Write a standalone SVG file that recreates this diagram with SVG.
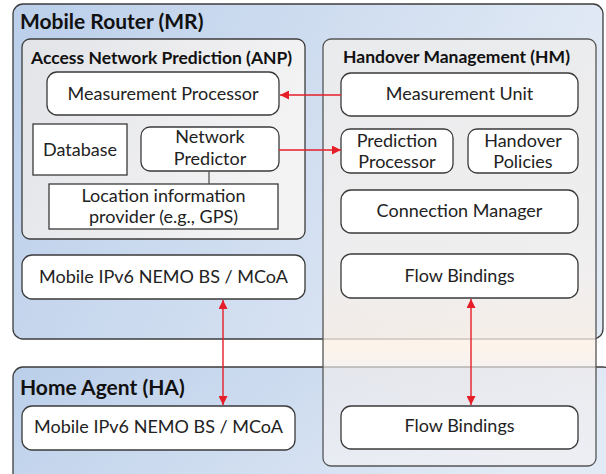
<svg xmlns="http://www.w3.org/2000/svg" width="606" height="474" viewBox="0 0 606 474">
<defs>
<linearGradient id="blue" x1="0" y1="0" x2="1" y2="0.25">
<stop offset="0" stop-color="#bbcfea"/>
<stop offset="1" stop-color="#e2eaf5"/>
</linearGradient>
<linearGradient id="grey" x1="0" y1="0" x2="1" y2="0.3">
<stop offset="0" stop-color="#e3e4e8"/>
<stop offset="1" stop-color="#f3f3f4"/>
</linearGradient>
<linearGradient id="hm" x1="0" y1="0" x2="0" y2="1">
<stop offset="0" stop-color="#ececec" stop-opacity="0.9"/>
<stop offset="0.55" stop-color="#f4f0ee" stop-opacity="0.8"/>
<stop offset="0.72" stop-color="#fcefe3" stop-opacity="0.75"/>
<stop offset="0.78" stop-color="#f0ecec" stop-opacity="0.65"/>
<stop offset="1" stop-color="#f2f1f4" stop-opacity="0.65"/>
</linearGradient>
<marker id="ah" viewBox="0 0 10 10" refX="10" refY="5" markerWidth="9" markerHeight="9" markerUnits="userSpaceOnUse" orient="auto-start-reverse">
<path d="M0,0 L10,5 L0,10 z" fill="#e61e28"/>
</marker>
</defs>
<style>
.cont{stroke:#3c3c3c;stroke-width:1.3}
.box{fill:#ffffff;stroke:#3a3a3a;stroke-width:1.3}
.t{font-family:Lato,"Liberation Sans",sans-serif;font-size:18px;fill:#222222;text-anchor:middle}
.title{font-family:Lato,"Liberation Sans",sans-serif;font-weight:bold;fill:#111111}
.arr{stroke:#e61e28;stroke-width:1.4;fill:none}
</style>

<g id="mr">
<rect class="cont" x="13" y="4" width="590" height="335" rx="10" fill="url(#blue)"/>
<text class="title" x="20" y="29" font-size="21">Mobile Router (MR)</text>
</g>
<g id="ha">
<rect class="cont" x="13" y="367" width="600" height="120" rx="10" fill="url(#blue)"/>
<text class="title" x="20" y="395" font-size="21">Home Agent (HA)</text>
</g>
<g id="anp">
<rect class="cont" x="22" y="39" width="283" height="200" rx="8" fill="url(#grey)"/>
<text class="title" x="31" y="64" font-size="17.5">Access Network Prediction (ANP)</text>
</g>
<g id="hm">
<rect x="323" y="39" width="273" height="427" rx="8" fill="url(#hm)" stroke="#555555" stroke-width="1.3"/>
<text class="title" x="343" y="63" font-size="17.5">Handover Management (HM)</text>
</g>

<g id="measurement-processor">
<rect class="box" x="47" y="72" width="232" height="43" rx="10"/>
<text class="t" x="163" y="100">Measurement Processor</text>
</g>
<g id="database">
<rect class="box" x="33" y="124" width="94" height="51"/>
<text class="t" x="80" y="156">Database</text>
</g>
<g id="network-predictor">
<rect class="box" x="141" y="127" width="138" height="44" rx="9"/>
<text class="t" x="210" y="143">Network</text>
<text class="t" x="210" y="165">Predictor</text>
</g>
<g id="location-provider">
<rect class="box" x="49" y="184" width="229" height="45"/>
<text class="t" x="163.5" y="202">Location information</text>
<text class="t" x="163.5" y="223">provider (e.g., GPS)</text>
</g>
<g id="measurement-unit">
<rect class="box" x="341" y="73" width="237" height="43" rx="10"/>
<text class="t" x="459.5" y="100">Measurement Unit</text>
</g>
<g id="prediction-processor">
<rect class="box" x="341" y="129" width="112" height="44" rx="9"/>
<text class="t" x="397" y="147">Prediction</text>
<text class="t" x="397" y="168">Processor</text>
</g>
<g id="handover-policies">
<rect class="box" x="468" y="129" width="110" height="44" rx="9"/>
<text class="t" x="523" y="147">Handover</text>
<text class="t" x="523" y="168">Policies</text>
</g>
<g id="connection-manager">
<rect class="box" x="341" y="190" width="237" height="43" rx="10"/>
<text class="t" x="459.5" y="217">Connection Manager</text>
</g>
<g id="mr-mobile-ipv6">
<rect class="box" x="22" y="255" width="283" height="44" rx="10"/>
<text class="t" x="163.5" y="283">Mobile IPv6 NEMO BS / MCoA</text>
</g>
<g id="mr-flow-bindings">
<rect class="box" x="341" y="254" width="237" height="44" rx="10"/>
<text class="t" x="459.5" y="282">Flow Bindings</text>
</g>
<g id="ha-mobile-ipv6">
<rect class="box" x="22" y="406" width="273" height="44" rx="10"/>
<text class="t" x="158.5" y="433">Mobile IPv6 NEMO BS / MCoA</text>
</g>
<g id="ha-flow-bindings">
<rect class="box" x="341" y="406" width="237" height="43" rx="10"/>
<text class="t" x="459.5" y="432">Flow Bindings</text>
</g>

<g id="connectors">
<line class="arr" x1="341" y1="95" x2="280" y2="95" marker-end="url(#ah)"/>
<line class="arr" x1="279" y1="150" x2="341" y2="150" marker-end="url(#ah)"/>
<line x1="209" y1="171" x2="209" y2="184" stroke="#555555" stroke-width="1.3"/>
<line class="arr" x1="223" y1="300" x2="223" y2="405" marker-start="url(#ah)" marker-end="url(#ah)"/>
<line class="arr" x1="471" y1="299" x2="471" y2="405" marker-start="url(#ah)" marker-end="url(#ah)"/>
</g>
</svg>
